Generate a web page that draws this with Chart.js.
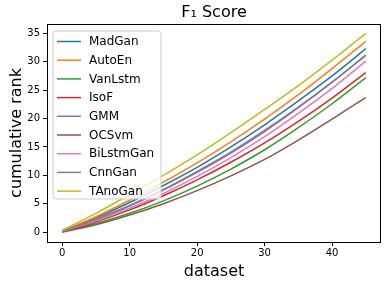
<!DOCTYPE html>
<html>
<head>
<meta charset="utf-8">
<script src="https://cdn.jsdelivr.net/npm/chart.js@4.4.0/dist/chart.umd.min.js"></script>
<style>
  html, body { margin: 0; padding: 0; background: #fff; }
</style>
</head>
<body>
<canvas id="rankChart" width="387" height="285"></canvas>
<script>
// dataset index (x) and cumulative rank
const xs = [0, 5, 10, 15, 20, 25, 30, 35, 40, 45];

const madGan    = [0.1, 2.5, 5.2, 8.2, 11.4, 15.0, 18.9, 23.1, 27.5, 32.3];
const autoEn    = [0.15, 2.7, 5.6, 8.8, 12.2, 15.9, 19.9, 24.2, 28.8, 33.6];
const vanLstm   = [0.05, 1.5, 3.3, 5.5, 8.1, 11.1, 14.5, 18.4, 22.6, 27.2];
const isoF      = [0.05, 1.8, 3.9, 6.4, 9.2, 12.3, 15.7, 19.5, 23.6, 28.1];
const gmm       = [0.1, 2.3, 4.7, 7.5, 10.7, 14.1, 17.9, 22.0, 26.4, 31.1];
const ocSvm     = [0.0, 1.3, 3.0, 5.0, 7.3, 9.9, 12.8, 16.2, 19.9, 23.7];
const biLstmGan = [0.1, 2.0, 4.2, 6.8, 9.8, 13.1, 16.8, 20.9, 25.3, 30.1];
const cnnGan    = [0.1, 2.2, 4.6, 7.4, 10.5, 13.9, 17.7, 21.9, 26.4, 31.2];
const tAnoGan   = [0.3, 3.3, 6.6, 10.0, 13.6, 17.5, 21.6, 25.8, 30.3, 35.0];

const names = ['MadGan', 'AutoEn', 'VanLstm', 'IsoF', 'GMM', 'OCSvm', 'BiLstmGan', 'CnnGan', 'TAnoGan'];
const series = [madGan, autoEn, vanLstm, isoF, gmm, ocSvm, biLstmGan, cnnGan, tAnoGan];
const colors = ['#1f77b4', '#ff7f0e', '#2ca02c', '#d62728', '#9467bd', '#8c564b', '#e377c2', '#7f7f7f', '#bcbd22'];

const xTicks = [0, 10, 20, 30, 40];
const yTicks = [0, 5, 10, 15, 20, 25, 30, 35];

const FONT = 'DejaVu Sans';

// build datasets, later series drawn on top like matplotlib
const datasets = names.map((name, i) => ({
    label: name,
    data: xs.map((x, j) => ({ x: x, y: series[i][j] })),
    borderColor: colors[i],
    backgroundColor: colors[i],
    borderWidth: 1.5,
    pointRadius: 0,
    fill: false,
    cubicInterpolationMode: 'monotone',
    order: names.length - i
}));

// frame, title and in-plot legend
const decorPlugin = {
    id: 'decor',
    afterDatasetsDraw(chart) {
        const ctx = chart.ctx;
        const a = chart.chartArea;
        ctx.save();

        // legend box
        const bx = 53, by = 31, bw = 108, bh = 168, r = 3;
        ctx.beginPath();
        ctx.moveTo(bx + r, by);
        ctx.arcTo(bx + bw, by, bx + bw, by + bh, r);
        ctx.arcTo(bx + bw, by + bh, bx, by + bh, r);
        ctx.arcTo(bx, by + bh, bx, by, r);
        ctx.arcTo(bx, by, bx + bw, by, r);
        ctx.closePath();
        ctx.fillStyle = 'rgba(255,255,255,0.8)';
        ctx.fill();
        ctx.strokeStyle = '#cccccc';
        ctx.lineWidth = 1;
        ctx.stroke();

        ctx.font = '12px "' + FONT + '"';
        ctx.textBaseline = 'middle';
        ctx.textAlign = 'left';
        chart.data.datasets.forEach((ds, i) => {
            const y = 41.5 + i * 18.7;
            ctx.beginPath();
            ctx.moveTo(57, y);
            ctx.lineTo(81, y);
            ctx.strokeStyle = ds.borderColor;
            ctx.lineWidth = 1.5;
            ctx.stroke();
            ctx.fillStyle = '#000';
            ctx.fillText(ds.label, 89, y + 0.5);
        });

        // axes frame
        ctx.strokeStyle = '#000';
        ctx.lineWidth = 1;
        ctx.strokeRect(Math.round(a.left) + 0.5, Math.round(a.top) + 0.5,
            Math.round(a.right - a.left) - 1, Math.round(a.bottom - a.top));

        // title
        ctx.font = '16px "' + FONT + '"';
        ctx.textAlign = 'center';
        ctx.fillStyle = '#000';
        ctx.fillText('F\u2081 Score', (a.left + a.right) / 2, 13);
        ctx.restore();
    }
};

const canvas = document.getElementById('rankChart');
const chart = new Chart(canvas, {
    type: 'line',
    data: { datasets: datasets },
    options: {
        responsive: false,
        animation: false,
        devicePixelRatio: 1,
        layout: { padding: { top: 24, right: 6, left: 0, bottom: 0 } },
        plugins: {
            legend: { display: false },
            title: { display: false },
            tooltip: { enabled: false }
        },
        scales: {
            x: {
                type: 'linear',
                min: -2.25,
                max: 47.25,
                afterBuildTicks: s => { s.ticks = xTicks.map(v => ({ value: v })); },
                afterFit: s => { s.height = 43; },
                ticks: { font: { family: FONT, size: 10 }, color: '#000', padding: 1, maxRotation: 0 },
                grid: { drawOnChartArea: false, tickLength: 4, color: '#000' },
                border: { display: false },
                title: { display: true, text: 'dataset', color: '#000',
                    font: { family: FONT, size: 16 }, padding: { top: 0, bottom: 4 } }
            },
            y: {
                type: 'linear',
                min: -1.75,
                max: 36.65,
                afterBuildTicks: s => { s.ticks = yTicks.map(v => ({ value: v })); },
                afterFit: s => { s.width = 47; },
                ticks: { font: { family: FONT, size: 10 }, color: '#000', padding: 3 },
                grid: { drawOnChartArea: false, tickLength: 4, color: '#000' },
                border: { display: false },
                title: { display: true, text: 'cumulative rank', color: '#000',
                    font: { family: FONT, size: 16 }, padding: { top: 7, bottom: 0 } }
            }
        }
    },
    plugins: [decorPlugin]
});
</script>
</body>
</html>
